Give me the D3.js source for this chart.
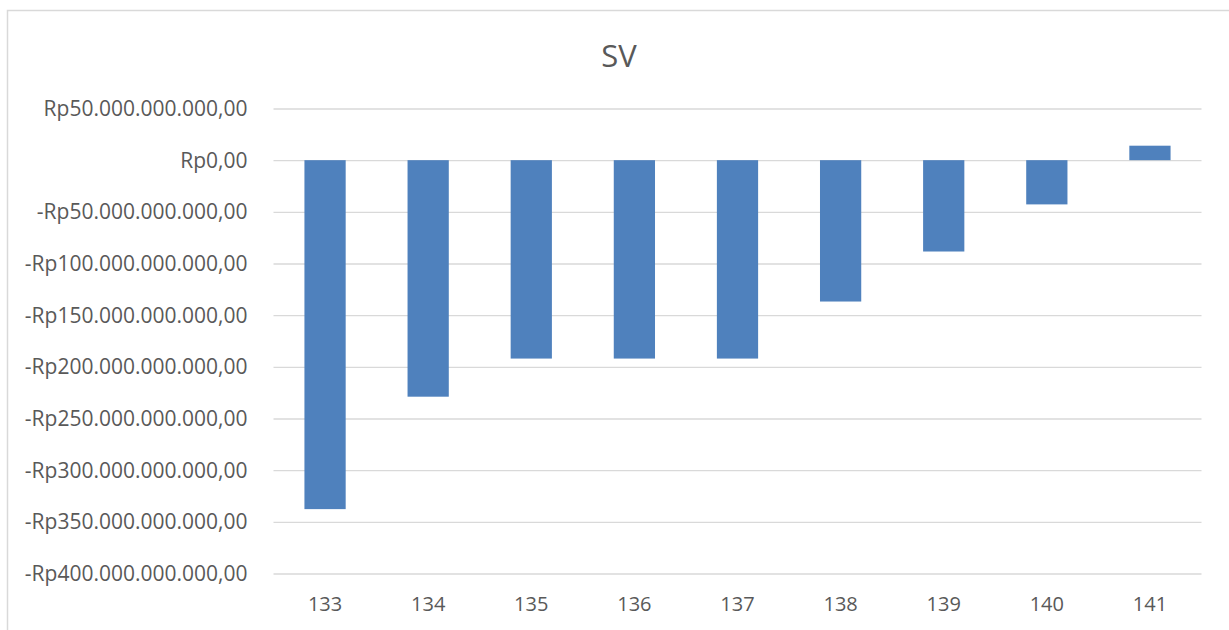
<!DOCTYPE html>
<html>
<head>
<meta charset="utf-8">
<script src="https://cdn.jsdelivr.net/npm/d3@7"></script>
<style>
    body { margin: 0; background: #fff; }
    text { font-family: "Open Sans", sans-serif; fill: #595959; }
</style>
</head>
<body>
<div id="chartArea"></div>
<script>
// SV per period (Rupiah)
let periods = ["133", "134", "135", "136", "137", "138", "139", "140", "141"];
let svValues = [-337.7e9, -228.9e9, -192.0e9, -192.0e9, -192.0e9, -136.8e9, -88.4e9, -42.8e9, 14.0e9];
let yTicks = [50e9, 0, -50e9, -100e9, -150e9, -200e9, -250e9, -300e9, -350e9, -400e9];

function rupiah(v) {
    let s = d3.format(",.2f")(Math.abs(v)).replace(/,/g, "#").replace(".", ",").replace(/#/g, ".");
    return (v < 0 ? "-" : "") + "Rp" + s;
}

function drawGraph() {
    let width = 1229, height = 630;
    let margins = { top: 108.5, right: 27.5, bottom: 56.5, left: 273.5 };
    let plotW = width - margins.left - margins.right,
        plotH = height - margins.top - margins.bottom;

    let svg = d3.select("#chartArea")
        .append('svg')
            .attr('width', width)
            .attr('height', height);

    // chart border
    svg.append('rect')
        .attr('x', 7.5).attr('y', 10.5)
        .attr('width', width + 20).attr('height', height + 20)
        .attr('fill', 'none')
        .attr('stroke', '#d9d9d9')
        .attr('stroke-width', 1.5);

    svg.append('text')
        .attr('x', 619).attr('y', 67)
        .attr('text-anchor', 'middle')
        .style('font-size', '31px')
        .text('SV');

    let chart = svg.append('g')
        .attr('transform', 'translate(' + margins.left + ',' + margins.top + ')');

    let xScale = d3.scaleBand()
        .domain(periods)
        .range([0, plotW])
        .paddingInner(0.6)
        .paddingOuter(0.3);

    let yScale = d3.scaleLinear()
        .domain([-400e9, 50e9])
        .range([plotH, 0]);

    // gridlines
    chart.append('g')
        .attr('class', 'grid')
        .call(d3.axisLeft(yScale).tickValues(yTicks).tickSize(-plotW).tickFormat(''))
        .call(g => g.select('.domain').remove())
        .call(g => g.selectAll('line').attr('stroke', '#d9d9d9').attr('stroke-width', 1.3));

    // y labels
    chart.append('g')
        .attr('class', 'y axis')
        .attr('transform', 'translate(-23,0)')
        .call(d3.axisLeft(yScale).tickValues(yTicks).tickSize(0).tickFormat(rupiah))
        .call(g => g.select('.domain').remove())
        .call(g => g.selectAll('text').style('font-size', '21px').attr('dy', '0.34em'));

    chart.selectAll('.bar')
        .data(svValues)
        .enter().append('rect')
            .attr('class', 'bar')
            .attr('x', (d, i) => xScale(periods[i]))
            .attr('y', d => yScale(Math.max(0, d)))
            .attr('width', xScale.bandwidth())
            .attr('height', d => Math.abs(yScale(d) - yScale(0)))
            .attr('fill', '#4f81bd');

    // x labels
    chart.append('g')
        .attr('class', 'x axis')
        .attr('transform', 'translate(0,' + plotH + ')')
        .call(d3.axisBottom(xScale).tickSize(0).tickPadding(23))
        .call(g => g.select('.domain').remove())
        .call(g => g.selectAll('text').style('font-size', '20px'));
}

drawGraph();
</script>
</body>
</html>
